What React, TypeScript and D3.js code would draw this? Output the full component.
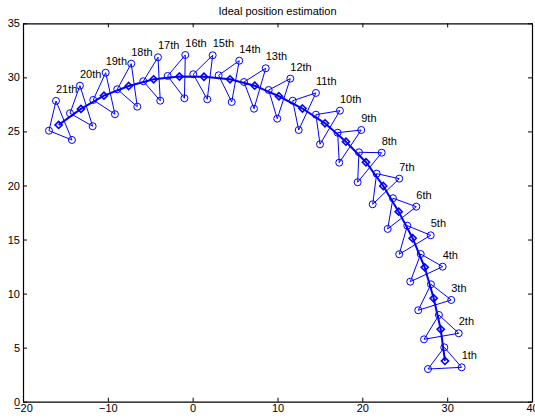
import React, { useRef, useEffect } from 'react';
import * as d3 from 'd3';

// estimated positions (diamonds), step 1..21
const stepLabels = ['1th', '2th', '3th', '4th', '5th', '6th', '7th', '8th', '9th', '10th', '11th',
  '12th', '13th', '14th', '15th', '16th', '17th', '18th', '19th', '20th', '21th'];

const estimates: [number, number][] = [
  [29.74, 3.77], [29.24, 6.70], [28.41, 9.57], [27.35, 12.43], [25.93, 15.12], [24.28, 17.58],
  [22.47, 19.95], [20.43, 22.15], [18.07, 24.05], [15.60, 25.75], [12.94, 27.12], [10.17, 28.25],
  [7.31, 29.23], [4.40, 29.82], [1.33, 30.06], [-1.56, 30.08], [-4.60, 29.82], [-7.54, 29.20],
  [-10.46, 28.31], [-13.17, 27.08], [-15.80, 25.60],
];

// three anchor nodes of each triangle
const anchorsA: [number, number][] = [
  [29.66, 5.03], [29.03, 8.02], [28.09, 10.86], [26.88, 13.66], [25.30, 16.28], [23.61, 18.82],
  [21.69, 21.09], [19.60, 23.07], [17.09, 24.88], [14.53, 26.55], [11.79, 27.84], [8.96, 28.83],
  [6.05, 29.57], [3.06, 30.19], [0.07, 30.29], [-2.95, 30.13], [-5.82, 29.64], [-8.89, 28.90],
  [-11.72, 27.91], [-14.46, 26.68], [-16.94, 25.07],
];
const anchorsB: [number, number][] = [
  [27.74, 3.02], [27.27, 5.77], [26.59, 8.46], [25.65, 11.10], [24.35, 13.64], [22.99, 15.98],
  [21.22, 18.26], [19.45, 20.30], [17.28, 22.11], [15.01, 23.81], [12.50, 25.13], [9.97, 26.18],
  [7.23, 27.10], [4.60, 27.72], [1.72, 27.97], [-0.97, 28.07], [-3.82, 27.84], [-6.53, 27.29],
  [-9.16, 26.59], [-11.79, 25.48], [-14.23, 24.21],
];
const anchorsC: [number, number][] = [
  [31.71, 3.18], [31.36, 6.33], [30.48, 9.41], [29.47, 12.49], [28.06, 15.39], [26.36, 18.04],
  [24.35, 20.63], [22.28, 23.03], [19.87, 25.13], [17.36, 26.92], [14.53, 28.56], [11.51, 29.88],
  [8.61, 30.84], [5.49, 31.54], [2.36, 32.04], [-0.87, 32.07], [-4.09, 31.86], [-7.24, 31.27],
  [-10.26, 30.43], [-13.29, 29.23], [-16.11, 27.82],
];

const xTicks = [-20, -10, 0, 10, 20, 30, 40];
const yTicks = [0, 5, 10, 15, 20, 25, 30, 35];

function App() {
  const ref = useRef<SVGSVGElement>(null);

  useEffect(() => {
    const svg = d3.select(ref.current);
    svg.selectAll('*').remove();

    const width = 535;
    const height = 418;
    const margin = { top: 23.3, right: 3, bottom: 16.3, left: 23 };
    const font = '"Liberation Sans", Arial, sans-serif';
    const blue = '#0000ff';

    const x = d3.scaleLinear().domain([-20, 40]).range([margin.left, width - margin.right]);
    const y = d3.scaleLinear().domain([0, 35]).range([height - margin.bottom, margin.top]);

    svg.append('rect').attr('width', width).attr('height', height).attr('fill', '#fff');

    // title
    svg.append('text')
      .attr('x', (x(-20) + x(40)) / 2)
      .attr('y', 14.5)
      .attr('text-anchor', 'middle')
      .attr('font-family', font)
      .attr('font-size', 11)
      .text('Ideal position estimation');

    // axes with inward ticks, box all round
    const bottom = svg.append('g')
      .attr('transform', `translate(0,${y(0)})`)
      .call(d3.axisBottom(x).tickValues(xTicks).tickSizeInner(-4).tickSizeOuter(0).tickPadding(3));
    const top = svg.append('g')
      .attr('transform', `translate(0,${y(35)})`)
      .call(d3.axisTop(x).tickValues(xTicks).tickSizeInner(-4).tickSizeOuter(0).tickFormat(() => ''));
    const left = svg.append('g')
      .attr('transform', `translate(${x(-20)},0)`)
      .call(d3.axisLeft(y).tickValues(yTicks).tickSizeInner(-4).tickSizeOuter(0).tickPadding(3));
    const right = svg.append('g')
      .attr('transform', `translate(${x(40)},0)`)
      .call(d3.axisRight(y).tickValues(yTicks).tickSizeInner(-4).tickSizeOuter(0).tickFormat(() => ''));

    [bottom, top, left, right].forEach(g => {
      g.select('.domain').attr('stroke', '#000').attr('stroke-width', 1.2);
      g.selectAll('.tick line').attr('stroke', '#000');
      g.selectAll('text').attr('font-family', font).attr('font-size', 11).attr('fill', '#000');
    });

    const plot = svg.append('g');

    // triangles
    estimates.forEach((_, i) => {
      const tri = [anchorsA[i], anchorsB[i], anchorsC[i]];
      plot.append('path')
        .attr('d', d3.line()(tri.map(p => [x(p[0]), y(p[1])])) + 'Z')
        .attr('fill', 'none')
        .attr('stroke', blue)
        .attr('stroke-width', 1);
    });

    // estimated track
    const track = d3.line<[number, number]>()
      .x(d => x(d[0]))
      .y(d => y(d[1]));
    plot.append('path')
      .datum(estimates)
      .attr('fill', 'none')
      .attr('stroke', blue)
      .attr('stroke-width', 2)
      .attr('d', track);

    // anchor circles
    const anchors = [...anchorsA, ...anchorsB, ...anchorsC];
    plot.selectAll('circle.anchor')
      .data(anchors)
      .enter().append('circle')
      .attr('cx', d => x(d[0]))
      .attr('cy', d => y(d[1]))
      .attr('r', 3.5)
      .attr('fill', 'none')
      .attr('stroke', blue)
      .attr('stroke-width', 1);

    // diamonds
    const diamond = d3.symbol().type(d3.symbolDiamond2).size(32);
    plot.selectAll('path.est')
      .data(estimates)
      .enter().append('path')
      .attr('transform', d => `translate(${x(d[0])},${y(d[1])})`)
      .attr('d', diamond)
      .attr('fill', 'none')
      .attr('stroke', blue)
      .attr('stroke-width', 1.6);

    // step labels next to third anchor
    plot.selectAll('text.lab')
      .data(anchorsC)
      .enter().append('text')
      .attr('x', d => x(d[0]))
      .attr('y', d => y(d[1]) - 8)
      .attr('font-family', font)
      .attr('font-size', 11)
      .attr('fill', '#000')
      .text((_, i) => stepLabels[i]);
  }, []);

  return (
    <svg ref={ref} width={535} height={418} style={{ position: 'absolute', left: 0, top: 0 }}></svg>
  );
}

export default App;
